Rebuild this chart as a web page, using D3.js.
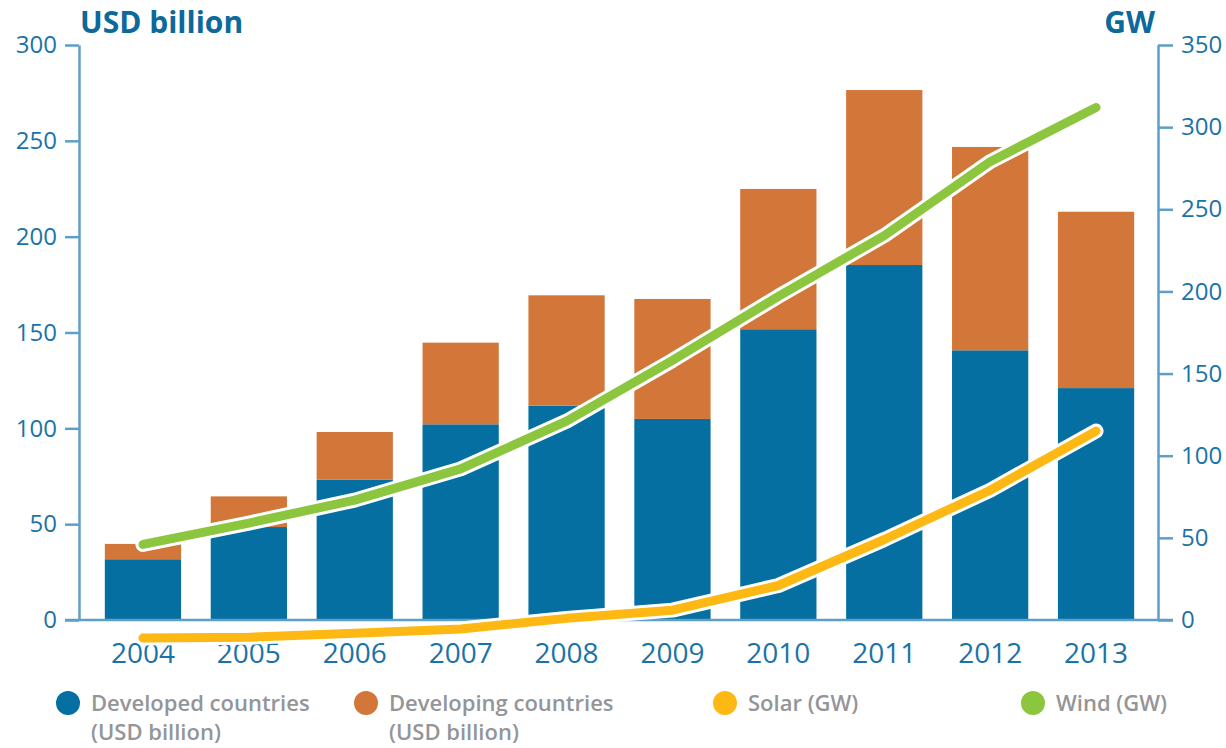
<!DOCTYPE html>
<html>
<head>
<meta charset="utf-8">
<script src="https://cdn.jsdelivr.net/npm/d3@7"></script>
<style>
  html, body { margin: 0; padding: 0; background: #ffffff; }
  svg { display: block; font-family: "Open Sans", "DejaVu Sans", sans-serif; }
</style>
</head>
<body>
<svg id="chart" width="1226" height="748"></svg>
<script>
// Investment by country group (USD billion) and installed capacity (GW), 2004-2013
const years = ["2004", "2005", "2006", "2007", "2008", "2009", "2010", "2011", "2012", "2013"];
const developed = [31.7, 48.5, 73.2, 102.1, 111.8, 104.9, 151.7, 185.2, 140.7, 121.0];
const developing = [8.0, 16.0, 24.9, 42.6, 57.6, 62.6, 73.2, 91.3, 106.1, 92.0];
const wind = [46, 59, 73, 92, 121, 158, 197, 234, 279, 312];
const solar = [-11, -10.5, -8, -5.5, 1, 6, 21, 49, 79, 115];
const leftTicks = [0, 50, 100, 150, 200, 250, 300];
const rightTicks = [0, 50, 100, 150, 200, 250, 300, 350];

const colors = {
  developed: "#046fa0",
  developing: "#d2763a",
  solar: "#fdb813",
  wind: "#8cc63f",
  axis: "#5d9fc6",
  tick: "#1a73a7",
  title: "#0b699b",
  legend: "#939598"
};

const svg = d3.select("#chart");

const x = d3.scaleBand().domain(years).range([90, 1149]).paddingInner(0.28).paddingOuter(0.14);
const yL = d3.scaleLinear().domain([0, 300]).range([620, 45]);
const yR = d3.scaleLinear().domain([0, 350]).range([620, 45]);

// stacked bars
const rows = years.map((yr, i) => ({ year: yr, developed: developed[i], developing: developing[i] }));
const stack = d3.stack().keys(["developed", "developing"])(rows);

svg.append("g").selectAll("g")
  .data(stack)
  .join("g")
  .attr("fill", d => colors[d.key])
  .selectAll("rect")
  .data(d => d)
  .join("rect")
  .attr("x", d => x(d.data.year))
  .attr("width", x.bandwidth())
  .attr("y", d => yL(d[1]))
  .attr("height", d => yL(d[0]) - yL(d[1]));

// axes
const axisStyle = g => {
  g.selectAll(".domain").attr("stroke", colors.axis).attr("stroke-width", 2.5);
  g.selectAll(".tick line").attr("stroke", colors.axis).attr("stroke-width", 2.5);
  g.selectAll(".tick text").attr("fill", colors.tick).attr("font-size", 24).style("font-family", "\"Open Sans\", sans-serif");
};

svg.append("g")
  .attr("transform", "translate(79,0)")
  .call(d3.axisLeft(yL).tickValues(leftTicks).tickSize(14).tickSizeOuter(0).tickPadding(8))
  .call(axisStyle);

svg.append("g")
  .attr("transform", "translate(1158,0)")
  .call(d3.axisRight(yR).tickValues(rightTicks).tickSize(15).tickSizeOuter(0).tickPadding(8))
  .call(axisStyle);

// baseline
svg.append("line")
  .attr("x1", 65).attr("x2", 1173)
  .attr("y1", yL(0)).attr("y2", yL(0))
  .attr("stroke", colors.axis).attr("stroke-width", 2.5);

// year labels
const xAxis = svg.append("g")
  .attr("transform", `translate(0,${yL(0)})`)
  .call(d3.axisBottom(x).tickSize(0).tickPadding(23));
xAxis.select(".domain").remove();
xAxis.selectAll(".tick text")
  .attr("fill", colors.tick)
  .attr("font-size", 28)
  .style("font-family", "\"Open Sans\", sans-serif");

// lines with white halo
const cx = d => x(d) + x.bandwidth() / 2;
const drawLine = (vals, color) => {
  const gen = d3.line().x((d, i) => cx(years[i])).y(d => yR(d));
  svg.append("path").datum(vals).attr("d", gen)
    .attr("fill", "none").attr("stroke", "#ffffff").attr("stroke-width", 15)
    .attr("stroke-linecap", "round").attr("stroke-linejoin", "round");
  svg.append("path").datum(vals).attr("d", gen)
    .attr("fill", "none").attr("stroke", color).attr("stroke-width", 9)
    .attr("stroke-linecap", "round").attr("stroke-linejoin", "round");
};
drawLine(solar, colors.solar);
drawLine(wind, colors.wind);

// axis titles
svg.append("text").attr("x", 80).attr("y", 33)
  .attr("font-size", 30).attr("font-weight", 700).attr("fill", colors.title)
  .text("USD billion");
svg.append("text").attr("x", 1155).attr("y", 33).attr("text-anchor", "end")
  .attr("font-size", 30).attr("font-weight", 700).attr("fill", colors.title)
  .text("GW");

// legend
const legendItems = [
  { cx: 68, tx: 91, color: colors.developed, lines: ["Developed countries", "(USD billion)"] },
  { cx: 366, tx: 389, color: colors.developing, lines: ["Developing countries", "(USD billion)"] },
  { cx: 725, tx: 748, color: colors.solar, lines: ["Solar (GW)"] },
  { cx: 1033, tx: 1056, color: colors.wind, lines: ["Wind (GW)"] }
];
const lg = svg.append("g").selectAll("g").data(legendItems).join("g");
lg.append("circle").attr("cx", d => d.cx).attr("cy", 703).attr("r", 12).attr("fill", d => d.color);
lg.each(function(d) {
  const t = d3.select(this).append("text")
    .attr("fill", colors.legend).attr("font-size", 22).attr("font-weight", 600);
  d.lines.forEach((ln, i) => {
    t.append("tspan").attr("x", d.tx).attr("y", 711 + i * 29).text(ln);
  });
});
</script>
</body>
</html>
